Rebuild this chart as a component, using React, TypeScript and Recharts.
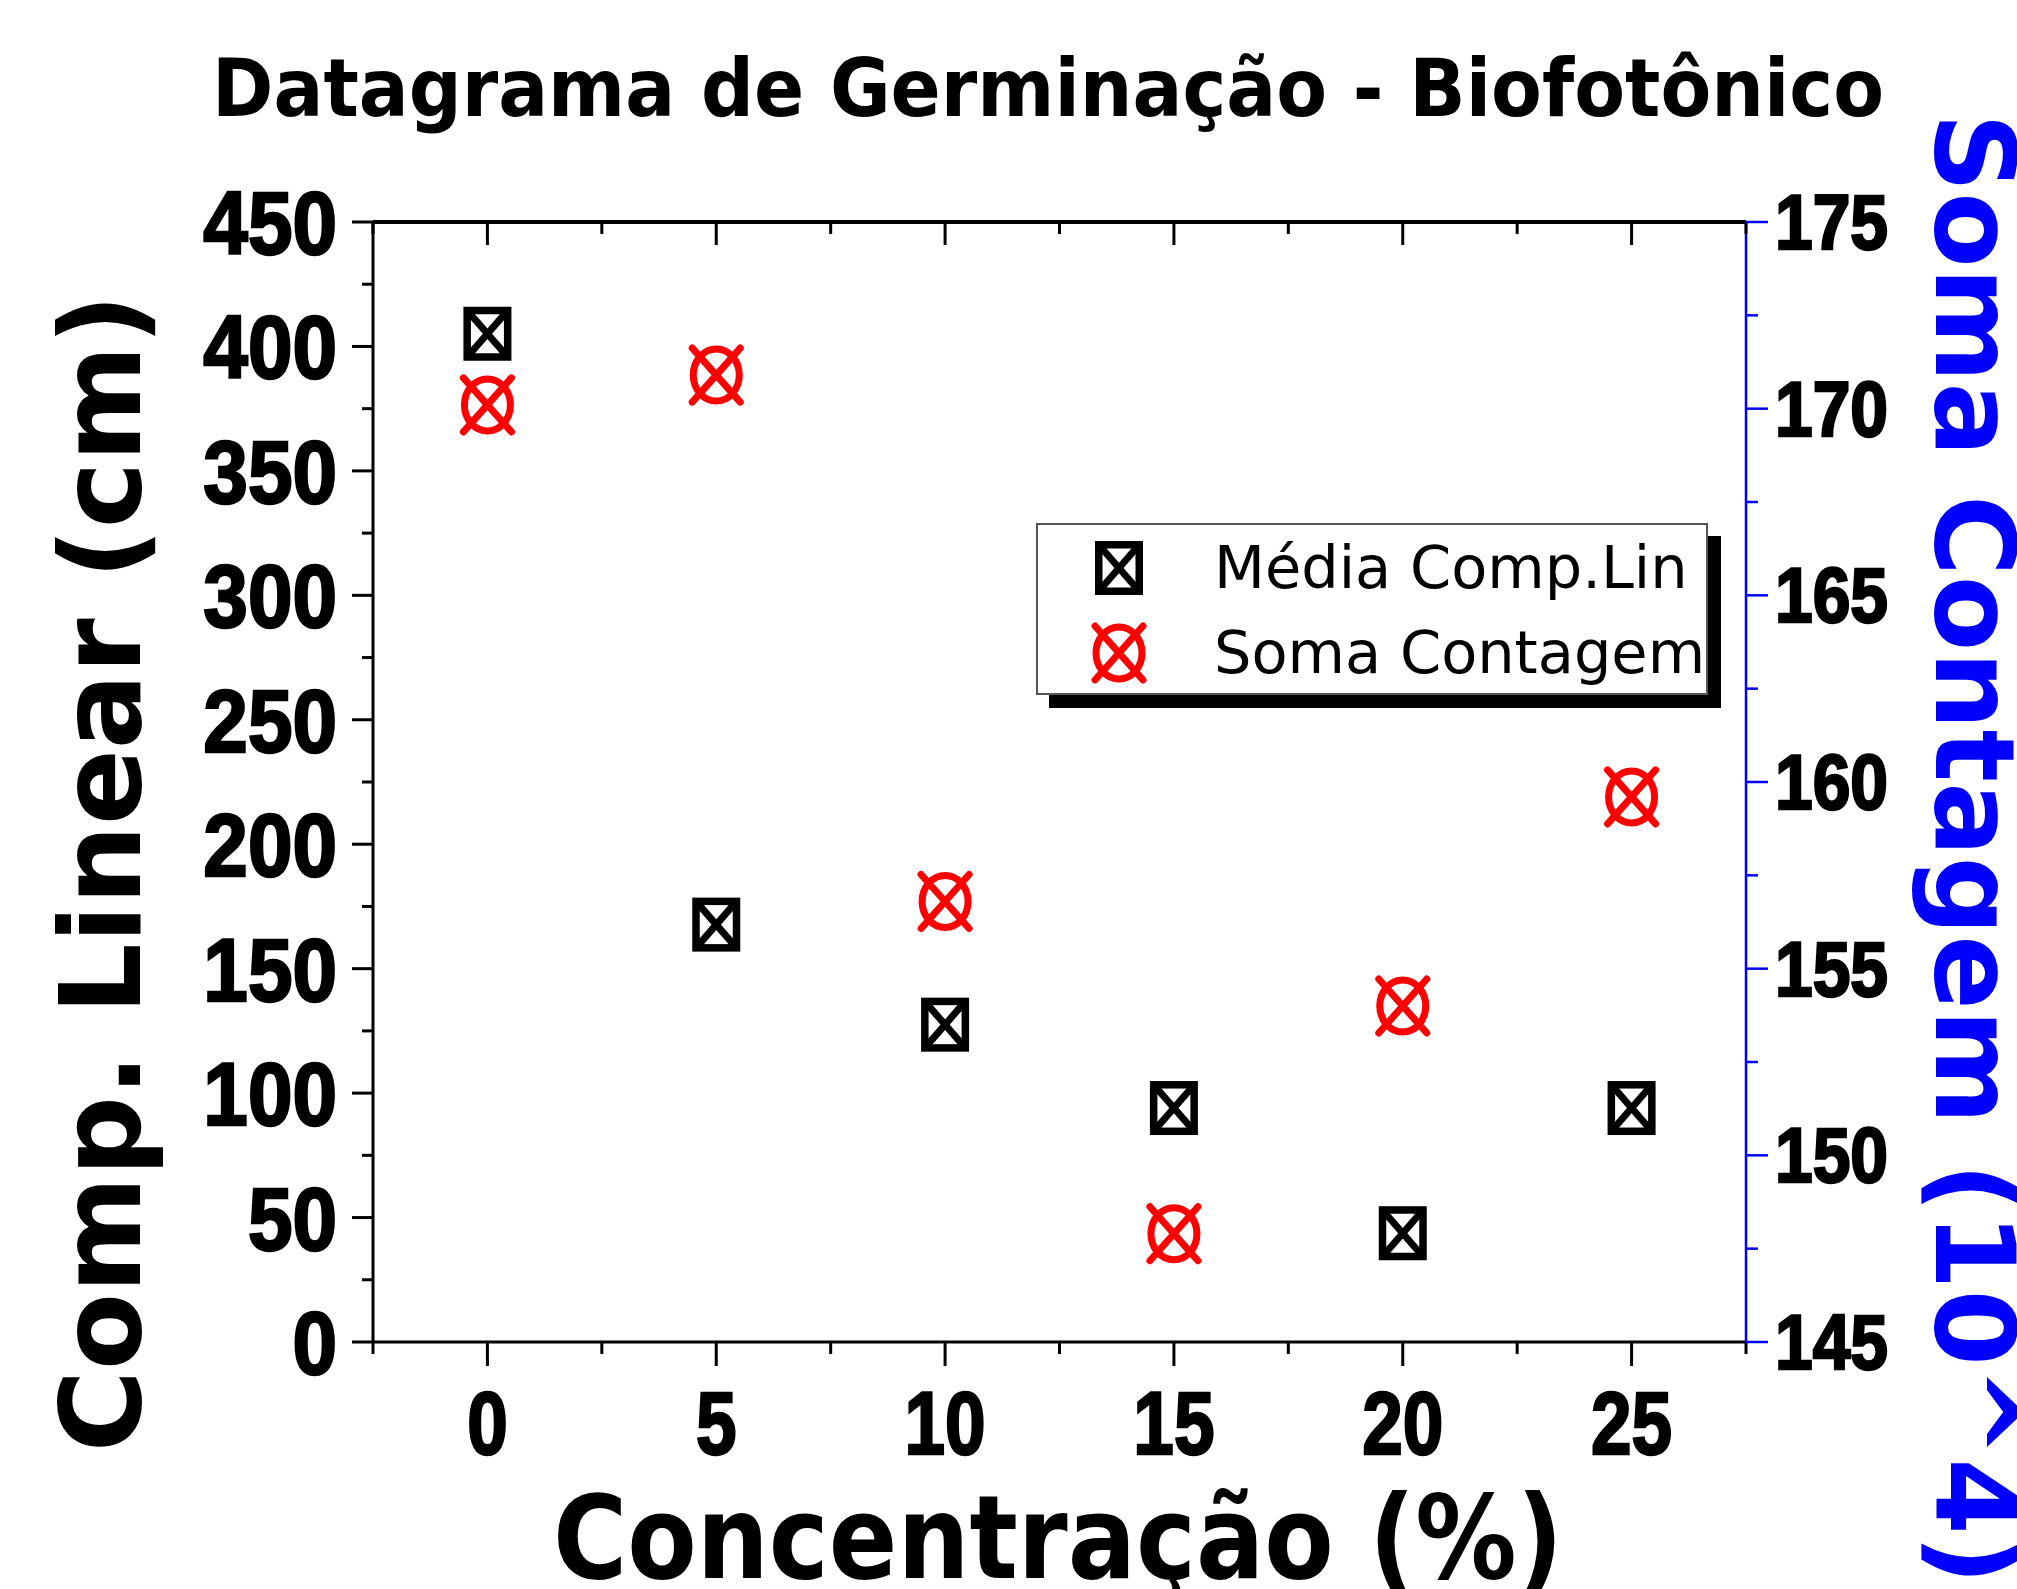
import { ScatterChart, Scatter, XAxis, YAxis, Legend } from 'recharts'

const concentracao = [0, 5, 10, 15, 20, 25]
const mediaComp = [405.1, 167.7, 127.5, 94.0, 43.7, 94.0]
const somaContagem = [170.1, 170.9, 156.8, 147.9, 154.0, 159.6]

const xTicks = [-2.5, 0, 2.5, 5, 7.5, 10, 12.5, 15, 17.5, 20, 22.5, 25, 27.5]
const leftTicks = [0, 25, 50, 75, 100, 125, 150, 175, 200, 225, 250, 275, 300, 325, 350, 375, 400, 425, 450]
const rightTicks = [145, 147.5, 150, 152.5, 155, 157.5, 160, 162.5, 165, 167.5, 170, 172.5, 175]

const seriesNames = ['Média Comp.Lin', 'Soma Contagem']

const mediaData = concentracao.map((x, i) => ({ x, y: mediaComp[i] }))
const somaData = concentracao.map((x, i) => ({ x, y: somaContagem[i] }))

const BLUE = '#0000ff'
const RED = '#ff0000'
const ARIAL = '"Liberation Sans", Arial, sans-serif'
const VERDANA = '"DejaVu Sans", Verdana, sans-serif'

const isMajor = (v: number, step: number) => Math.abs(v / step - Math.round(v / step)) < 1e-6

// square with an X inside (Origin-style marker)
function SquareX({ cx, cy }: any) {
  if (cx == null || cy == null) return null
  const w = 40.5
  const h = 46.5
  return (
    <g>
      <line x1={cx - w / 2} y1={cy - h / 2} x2={cx + w / 2} y2={cy + h / 2} stroke="#000" strokeWidth={7} />
      <line x1={cx + w / 2} y1={cy - h / 2} x2={cx - w / 2} y2={cy + h / 2} stroke="#000" strokeWidth={7} />
      <rect x={cx - w / 2} y={cy - h / 2} width={w} height={h} fill="none" stroke="#000" strokeWidth={7.5} />
    </g>
  )
}

// circle with an X through it
function CircleX({ cx, cy }: any) {
  if (cx == null || cy == null) return null
  return (
    <g>
      <ellipse cx={cx} cy={cy} rx={23} ry={26} fill="none" stroke={RED} strokeWidth={7} />
      <line x1={cx - 24} y1={cy - 27} x2={cx + 24} y2={cy + 27} stroke={RED} strokeWidth={7} strokeLinecap="round" />
      <line x1={cx + 24} y1={cy - 27} x2={cx - 24} y2={cy + 27} stroke={RED} strokeWidth={7} strokeLinecap="round" />
    </g>
  )
}

const BottomTick = ({ x, y, payload }: any) => {
  const major = isMajor(payload.value, 5)
  return (
    <g>
      <line x1={x} y1={y} x2={x} y2={y + (major ? 24 : 12)} stroke="#000" strokeWidth={3} />
      {major && payload.value >= 0 && payload.value <= 25 && (
        <text
          transform={`translate(${x},${y + 112}) scale(0.82,1)`}
          textAnchor="middle"
          fontFamily={ARIAL}
          fontWeight="bold"
          fontSize={89}
          fill="#000"
          stroke="#000"
          strokeWidth={2.5}
        >
          {payload.value}
        </text>
      )}
    </g>
  )
}

const TopTick = ({ x, y, payload }: any) => {
  const major = isMajor(payload.value, 5)
  return <line x1={x} y1={y} x2={x} y2={y + (major ? 23 : 12)} stroke="#000" strokeWidth={3} />
}

const LeftTick = ({ x, y, payload }: any) => {
  const major = isMajor(payload.value, 50)
  return (
    <g>
      <line x1={x} y1={y} x2={x - (major ? 21 : 11)} y2={y} stroke="#000" strokeWidth={3} />
      {major && (
        <text
          transform={`translate(${x - 36},${y + 32}) scale(0.9,1)`}
          textAnchor="end"
          fontFamily={ARIAL}
          fontWeight="bold"
          fontSize={89}
          fill="#000"
          stroke="#000"
          strokeWidth={2.5}
        >
          {payload.value}
        </text>
      )}
    </g>
  )
}

const RightTick = ({ x, y, payload }: any) => {
  const major = isMajor(payload.value, 5)
  return (
    <g>
      <line x1={x} y1={y} x2={x + (major ? 22 : 12)} y2={y} stroke={BLUE} strokeWidth={2.5} />
      {major && (
        <text
          transform={`translate(${x + 29},${y + 27}) scale(0.88,1)`}
          textAnchor="start"
          fontFamily={ARIAL}
          fontWeight="bold"
          fontSize={77}
          fill="#000"
          stroke="#000"
          strokeWidth={2.5}
        >
          {payload.value}
        </text>
      )}
    </g>
  )
}

function LegendBox() {
  const markers = [SquareX, CircleX]
  return (
    <div
      style={{
        width: 672,
        height: 172,
        boxSizing: 'border-box',
        border: '2px solid #555',
        background: '#fff',
        boxShadow: '13px 13px 0 #000',
        position: 'relative',
      }}
    >
      {seriesNames.map((name, i) => {
        const Marker = markers[i]
        return (
          <div key={name} style={{ position: 'absolute', left: 0, top: 43 + i * 85 - 40, height: 80, display: 'flex', alignItems: 'center' }}>
            <svg width={120} height={80} style={{ marginLeft: 21 }}>
              <Marker cx={60} cy={40} />
            </svg>
            <span style={{ marginLeft: 35, fontFamily: VERDANA, fontSize: 59, color: '#000', whiteSpace: 'nowrap', lineHeight: '80px' }}>
              {name}
            </span>
          </div>
        )
      })}
    </div>
  )
}

export default function App() {
  return (
    <div style={{ position: 'absolute', left: 0, top: 0, width: 2017, height: 1589, background: '#fff' }}>
      <ScatterChart width={2017} height={1589} margin={{ top: 222, right: 71, bottom: 147, left: 173 }}>
        <XAxis
          xAxisId="bottom"
          type="number"
          dataKey="x"
          domain={[-2.5, 27.5]}
          ticks={xTicks}
          interval={0}
          allowDataOverflow
          height={100}
          tickSize={0}
          tickMargin={0}
          tickLine={false}
          tick={BottomTick}
          axisLine={{ stroke: '#000', strokeWidth: 3 }}
          label={() => (
            <text
              x={1058}
              y={1578}
              textAnchor="middle"
              fontFamily={VERDANA}
              fontWeight="bold"
              fontSize={115}
              textLength={1010}
              lengthAdjust="spacingAndGlyphs"
              fill="#000"
            >
              Concentração (%)
            </text>
          )}
        />
        <XAxis
          xAxisId="top"
          orientation="top"
          mirror
          type="number"
          dataKey="x"
          domain={[-2.5, 27.5]}
          ticks={xTicks}
          interval={0}
          allowDataOverflow
          tickSize={0}
          tickMargin={0}
          tickLine={false}
          tick={TopTick}
          axisLine={{ stroke: '#000', strokeWidth: 4 }}
          label={() => (
            <text
              x={1048}
              y={116}
              textAnchor="middle"
              fontFamily={VERDANA}
              fontWeight="bold"
              fontSize={80}
              textLength={1672}
              lengthAdjust="spacingAndGlyphs"
              fill="#000"
            >
              Datagrama de Germinação - Biofotônico
            </text>
          )}
        />
        <YAxis
          yAxisId="left"
          type="number"
          dataKey="y"
          domain={[0, 450]}
          ticks={leftTicks}
          interval={0}
          allowDataOverflow
          width={200}
          tickSize={0}
          tickMargin={0}
          tickLine={false}
          tick={LeftTick}
          axisLine={{ stroke: '#000', strokeWidth: 3 }}
          label={() => (
            <text
              transform="translate(140,873) rotate(-90)"
              textAnchor="middle"
              fontFamily={VERDANA}
              fontWeight="bold"
              fontSize={112}
              fill="#000"
            >
              Comp. Linear (cm)
            </text>
          )}
        />
        <YAxis
          yAxisId="right"
          orientation="right"
          type="number"
          dataKey="y"
          domain={[145, 175]}
          ticks={rightTicks}
          interval={0}
          allowDataOverflow
          width={200}
          tickSize={0}
          tickMargin={0}
          tickLine={false}
          tick={RightTick}
          axisLine={{ stroke: BLUE, strokeWidth: 2.5 }}
          label={() => (
            <text
              transform="translate(1936,849) rotate(90)"
              textAnchor="middle"
              fontFamily={VERDANA}
              fontWeight="bold"
              fontSize={110}
              fill={BLUE}
            >
              Soma Contagem (10^4)
            </text>
          )}
        />
        <Legend
          layout="horizontal"
          align="center"
          verticalAlign="middle"
          wrapperStyle={{ left: 1036, top: 523, width: 672 }}
          content={() => <LegendBox />}
        />
        <Scatter
          name={seriesNames[0]}
          data={mediaData}
          xAxisId="bottom"
          yAxisId="left"
          dataKey="y"
          shape={SquareX}
          isAnimationActive={false}
        />
        <Scatter
          name={seriesNames[1]}
          data={somaData}
          xAxisId="bottom"
          yAxisId="right"
          dataKey="y"
          shape={CircleX}
          isAnimationActive={false}
        />
      </ScatterChart>
    </div>
  )
}
